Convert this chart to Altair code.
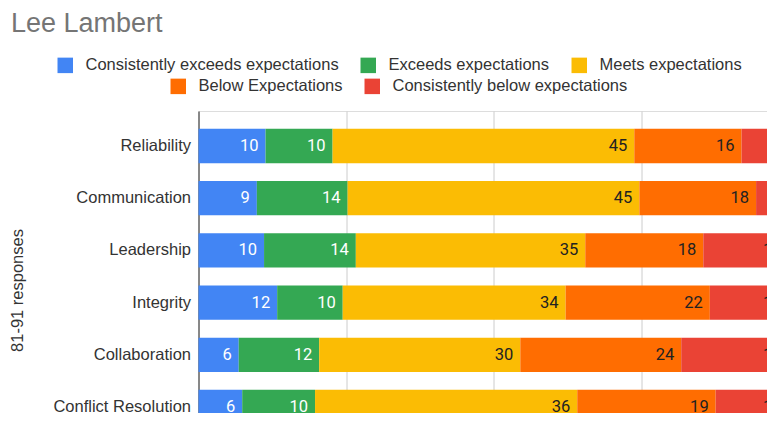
import altair as alt
import pandas as pd

metrics = ["Reliability", "Communication", "Leadership", "Integrity", "Collaboration", "Conflict Resolution"]
ratings = ["Consistently exceeds expectations", "Exceeds expectations", "Meets expectations",
           "Below Expectations", "Consistently below expectations"]
colors = ["#4285F4", "#34A853", "#FBBC04", "#FF6D01", "#EA4335"]

consistently_exceeds = [10, 9, 10, 12, 6, 6]
exceeds = [10, 14, 14, 10, 12, 10]
meets = [45, 45, 35, 34, 30, 36]
below = [16, 18, 18, 22, 24, 19]
consistently_below = [7, 5, 13, 12, 16, 10]

series = [consistently_exceeds, exceeds, meets, below, consistently_below]
rows = []
for oi, (r, vals) in enumerate(zip(ratings, series)):
    for m, v in zip(metrics, vals):
        rows.append({"metric": m, "rating": r, "order": oi, "value": v})
df = pd.DataFrame(rows)

FONT = "Liberation Sans"
TXT = "#333333"

base = (
    alt.Chart(df)
    .transform_joinaggregate(total="sum(value)", groupby=["metric"])
    .transform_window(cum="sum(value)", groupby=["metric"],
                      sort=[alt.SortField("order")], frame=[None, 0])
    .transform_calculate(x0="(datum.cum - datum.value) / datum.total",
                         x1="datum.cum / datum.total")
)

y_enc = alt.Y(
    "metric:N", sort=metrics,
    scale=alt.Scale(paddingInner=0.343, paddingOuter=0.6005, align=0.2847),
    axis=alt.Axis(title="81-91 responses", titleFont=FONT, titleFontSize=16.5,
                  titleFontWeight="normal", titleColor=TXT, titlePadding=27,
                  labelFont=FONT, labelFontSize=16.5, labelColor=TXT,
                  labelPadding=8, ticks=False, domainColor="#333333", domainWidth=1,
                  grid=False, labelLimit=300),
)
x_scale = alt.Scale(domain=[0, 1], nice=False, zero=True)
x_enc = alt.X(
    "x0:Q", scale=x_scale,
    axis=alt.Axis(values=[0, 0.25, 0.5, 0.75, 1], grid=True, labels=False,
                  gridColor="#cccccc", gridWidth=1, domain=False, ticks=False,
                  title=None),
)

legend_common = dict(orient="none", direction="horizontal", title=None,
                     symbolType="square", symbolSize=240, symbolStrokeWidth=0,
                     labelFont=FONT, labelFontSize=16.5, labelColor=TXT,
                     labelLimit=400, columnPadding=21, labelOffset=12)

layer_a = base.transform_filter("datum.order < 3").mark_bar().encode(
    y=y_enc, x=x_enc, x2="x1:Q",
    color=alt.Color("rating:N",
                    scale=alt.Scale(domain=ratings[:3], range=colors[:3]),
                    legend=alt.Legend(legendX=-141.5, legendY=-54, **legend_common)),
)
layer_b = base.transform_filter("datum.order >= 3").mark_bar().encode(
    y=y_enc, x=x_enc, x2="x1:Q",
    color=alt.Color("rating:N",
                    scale=alt.Scale(domain=ratings[3:], range=colors[3:]),
                    legend=alt.Legend(legendX=-28.5, legendY=-33, **legend_common)),
)
labels = base.mark_text(align="right", baseline="middle", dx=-7,
                        font="Roboto", fontSize=16.5).encode(
    y=y_enc, x=alt.X("x1:Q", scale=x_scale),
    text="value:Q",
    color=alt.condition("datum.order < 2", alt.value("white"), alt.value("#222222")),
)

chart = (
    alt.layer(layer_a, layer_b, labels)
    .resolve_scale(color="independent")
    .properties(
        width=590, height=358,
        title=alt.TitleParams("Lee Lambert", anchor="start", frame="bounds", dx=1,
                              font=FONT, fontSize=27, fontWeight="normal",
                              color="#757575", offset=19),
        autosize=alt.AutoSizeParams(type="none"),
        padding={"left": 190.5, "top": 103, "right": -21.5, "bottom": -56},
    )
    .configure_view(stroke=None)
    .configure(background="white")
)

chart.save("out.html", embed_options={"renderer": "svg", "actions": False})
